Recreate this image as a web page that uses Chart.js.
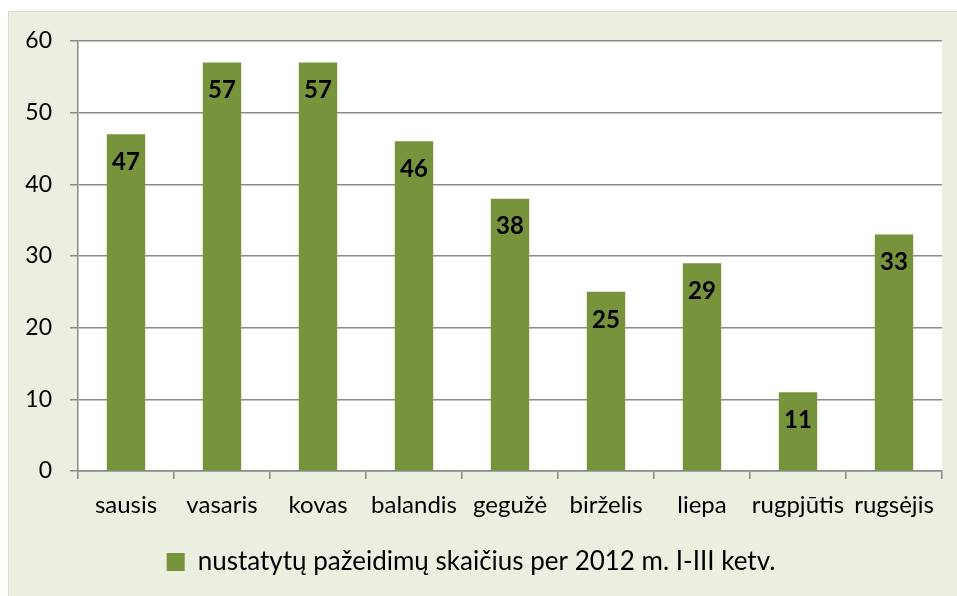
<!DOCTYPE html>
<html>
<head>
<meta charset="utf-8">
<script src="https://cdn.jsdelivr.net/npm/chart.js@4.4.1/dist/chart.umd.min.js"></script>
<style>
  html, body { margin: 0; padding: 0; background: #fff; }
  #wrap { width: 957px; height: 596px; position: relative; }
</style>
</head>
<body>
<div id="wrap"><canvas id="chart"></canvas></div>
<script>
const months = ["sausis", "vasaris", "kovas", "balandis", "gegužė", "birželis", "liepa", "rugpjūtis", "rugsėjis"]
const violations = [47, 57, 57, 46, 38, 25, 29, 11, 33]
const seriesName = "nustatytų pažeidimų skaičius per 2012 m. I-III ketv."
const yTicks = [0, 10, 20, 30, 40, 50, 60]

const FONT = "Lato, 'Open Sans', sans-serif"

// light green frame behind the chart, white plot area
const framePlugin = {
  id: "frame",
  beforeDraw(chart) {
    const { ctx, chartArea } = chart
    ctx.save()
    ctx.fillStyle = "#ffffff"
    ctx.fillRect(0, 0, chart.width, chart.height)
    ctx.fillStyle = "#ebefdf"
    ctx.fillRect(8, 11, chart.width - 8, chart.height - 11)
    ctx.strokeStyle = "#d6dfc3"
    ctx.lineWidth = 1
    ctx.strokeRect(8.5, 11.5, chart.width, chart.height)
    ctx.fillStyle = "#ffffff"
    ctx.fillRect(chartArea.left, chartArea.top, chartArea.right - chartArea.left, chartArea.bottom - chartArea.top)
    ctx.restore()
  },
}

// value labels inside the top of each bar
const valueLabels = {
  id: "valueLabels",
  afterDatasetsDraw(chart) {
    const { ctx } = chart
    const meta = chart.getDatasetMeta(0)
    ctx.save()
    ctx.font = "bold 24px " + FONT
    ctx.fillStyle = "#000"
    ctx.textAlign = "center"
    ctx.textBaseline = "middle"
    meta.data.forEach((bar, i) => {
      ctx.fillText(String(violations[i]), bar.x, bar.y + 28)
    })
    ctx.restore()
  },
}

new Chart(document.getElementById("chart").getContext("2d"), {
  type: "bar",
  data: {
    labels: months,
    datasets: [
      {
        label: seriesName,
        data: violations,
        backgroundColor: "#77933c",
        borderWidth: 0,
        categoryPercentage: 1,
        barPercentage: 0.4,
      },
    ],
  },
  options: {
    responsive: true,
    maintainAspectRatio: false,
    animation: false,
    layout: {
      padding: { top: 41, left: 0, right: 15, bottom: 11 },
    },
    scales: {
      x: {
        grid: {
          drawOnChartArea: false,
          drawTicks: true,
          tickLength: 8,
          color: "#8a8a8a",
          lineWidth: 1.5,
        },
        border: { color: "#8a8a8a", width: 1.5 },
        ticks: {
          color: "#000",
          font: { family: FONT, size: 24 },
          padding: 12,
          maxRotation: 0,
          autoSkip: false,
        },
        afterFit: (scale) => {
          scale.height = 68
        },
      },
      y: {
        min: 0,
        max: 60,
        afterBuildTicks: (scale) => {
          scale.ticks = yTicks.map((v) => ({ value: v }))
        },
        grid: {
          color: "#8a8a8a",
          lineWidth: 1.5,
          tickLength: 8,
        },
        border: { color: "#8a8a8a", width: 1.5 },
        ticks: {
          color: "#000",
          font: { family: FONT, size: 23 },
          padding: 18,
        },
        afterFit: (scale) => {
          scale.width = 78
        },
      },
    },
    plugins: {
      legend: {
        display: true,
        position: "bottom",
        labels: {
          color: "#000",
          font: { family: FONT, size: 26 },
          boxWidth: 18,
          boxHeight: 18,
          padding: 10,
        },
      },
      tooltip: { enabled: false },
    },
  },
  plugins: [framePlugin, valueLabels],
})
</script>
</body>
</html>
